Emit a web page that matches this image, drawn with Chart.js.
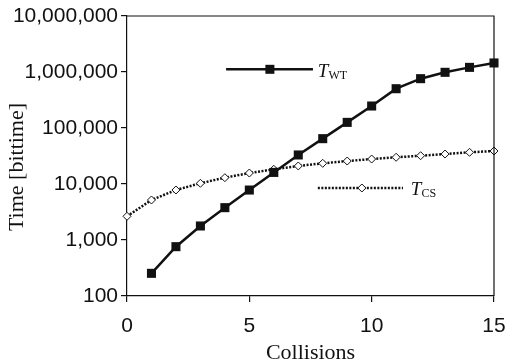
<!DOCTYPE html>
<html>
<head>
<meta charset="utf-8">
<style>
    html, body { margin: 0; padding: 0; background: #fff; }
    #wrap { width: 507px; height: 364px; position: relative; }
</style>
<script src="https://cdn.jsdelivr.net/npm/chart.js@4.4.1/dist/chart.umd.min.js"></script>
</head>
<body>
<div id="wrap"><canvas id="chart"></canvas></div>
<script>
// Collisions on the x axis
const wtCollisions = [1, 2, 3, 4, 5, 6, 7, 8, 9, 10, 11, 12, 13, 14, 15];
const csCollisions = [0, 1, 2, 3, 4, 5, 6, 7, 8, 9, 10, 11, 12, 13, 14, 15];

// Time in bittime
const wtTimes = [254, 760, 1780, 3780, 7800, 16100, 33000, 64500, 126000, 247000, 503000, 760000, 987000, 1210000, 1450000];
const csTimes = [2650, 5180, 7810, 10300, 12970, 15700, 18300, 21000, 23400, 25700, 27900, 30000, 32000, 34300, 36800, 38800];

// Tick labels
const xTicks = [0, 5, 10, 15];
const yTicks = [100, 1000, 10000, 100000, 1000000, 10000000];

const INK = '#111';
const serif = '"Liberation Serif", "Times New Roman", serif';

Chart.defaults.font.family = '"Liberation Sans", Arial, sans-serif';
Chart.defaults.color = INK;

const toPoints = (xs, ys) => xs.map((x, i) => ({ x: x, y: ys[i] }));

// Frame (top + right) and the inline legend keys
const framePlugin = {
    id: 'frameAndKeys',
    afterDraw(chart, args, opts) {
        const { ctx, chartArea: a, scales } = chart;
        ctx.save();
        ctx.strokeStyle = INK;
        ctx.lineWidth = 1.2;
        ctx.beginPath();
        ctx.moveTo(a.left, a.top);
        ctx.lineTo(a.right, a.top);
        ctx.lineTo(a.right, a.bottom);
        ctx.stroke();

        opts.keys.forEach(k => {
            const y = scales.y.getPixelForValue(k.y);
            const x0 = scales.x.getPixelForValue(k.from);
            const x1 = scales.x.getPixelForValue(k.to);
            const xm = scales.x.getPixelForValue(k.marker);
            const xt = scales.x.getPixelForValue(k.textAt);

            ctx.strokeStyle = INK;
            ctx.lineWidth = k.width;
            ctx.setLineDash(k.dash);
            ctx.beginPath();
            ctx.moveTo(x0, y);
            ctx.lineTo(x1, y);
            ctx.stroke();
            ctx.setLineDash([]);

            ctx.lineWidth = 1;
            if (k.style === 'rect') {
                ctx.fillStyle = INK;
                ctx.fillRect(xm - 4.5, y - 4.5, 9, 9);
            } else {
                ctx.fillStyle = '#fff';
                ctx.beginPath();
                ctx.moveTo(xm - 4, y);
                ctx.lineTo(xm, y - 4);
                ctx.lineTo(xm + 4, y);
                ctx.lineTo(xm, y + 4);
                ctx.closePath();
                ctx.fill();
                ctx.stroke();
            }

            ctx.fillStyle = INK;
            ctx.textBaseline = 'alphabetic';
            ctx.textAlign = 'left';
            ctx.font = 'italic 19px ' + serif;
            ctx.fillText('T', xt, y + 7.5);
            const tw = ctx.measureText('T').width;
            ctx.font = '12px ' + serif;
            ctx.fillText(k.sub, xt + tw, y + 9.5);
        });
        ctx.restore();
    }
};

new Chart(document.getElementById('chart'), {
    type: 'line',
    data: {
        datasets: [
            {
                label: 'TWT',
                data: toPoints(wtCollisions, wtTimes),
                borderColor: INK,
                backgroundColor: INK,
                borderWidth: 2.5,
                pointStyle: 'rect',
                pointRadius: 6.4,
                pointBorderWidth: 0,
                clip: false
            },
            {
                label: 'TCS',
                data: toPoints(csCollisions, csTimes),
                borderColor: INK,
                borderWidth: 2.5,
                borderDash: [2, 1.5],
                pointStyle: 'rectRot',
                pointRadius: 4,
                pointBorderWidth: 1,
                pointBackgroundColor: '#fff',
                pointBorderColor: INK,
                clip: false
            }
        ]
    },
    options: {
        responsive: true,
        maintainAspectRatio: false,
        animation: false,
        events: [],
        layout: { padding: { top: 16, right: 13, left: 0, bottom: 0 } },
        plugins: {
            legend: { display: false },
            tooltip: { enabled: false },
            frameAndKeys: {
                keys: [
                    { sub: 'WT', style: 'rect', y: 1117000, from: 4.05, to: 7.6, marker: 5.84, textAt: 7.8, width: 2.5, dash: [] },
                    { sub: 'CS', style: 'diamond', y: 8490, from: 7.8, to: 11.28, marker: 9.6, textAt: 11.6, width: 2.5, dash: [2, 1.5] }
                ]
            }
        },
        scales: {
            x: {
                type: 'linear',
                min: 0,
                max: 15,
                afterBuildTicks: scale => { scale.ticks = xTicks.map(v => ({ value: v })); },
                afterFit: scale => {
                    scale.height = 68;
                    scale.paddingLeft = 0;
                    scale.paddingRight = 0;
                },
                grid: { drawOnChartArea: false, drawTicks: true, tickLength: 6, color: INK, lineWidth: 1.2 },
                border: { color: INK, width: 1.2 },
                ticks: { padding: 12, font: { size: 21 }, color: INK, maxRotation: 0 },
                title: {
                    display: true,
                    text: 'Collisions',
                    font: { family: serif, size: 22, lineHeight: 1 },
                    padding: { top: 0, bottom: 0 },
                    color: INK
                }
            },
            y: {
                type: 'logarithmic',
                min: 100,
                max: 10000000,
                afterBuildTicks: scale => { scale.ticks = yTicks.map(v => ({ value: v })); },
                afterFit: scale => { scale.width = 127; },
                grid: { drawOnChartArea: false, drawTicks: true, tickLength: 6, color: INK, lineWidth: 1.2 },
                border: { color: INK, width: 1.2 },
                ticks: {
                    padding: 3,
                    font: { size: 21 },
                    color: INK,
                    callback: value => value.toLocaleString('en-US')
                },
                title: {
                    display: true,
                    // trailing en spaces nudge the centred title a little lower, as in the original
                    text: 'Time [bittime]\u2002\u2002',
                    font: { family: serif, size: 22, lineHeight: 1 },
                    padding: { top: 6, bottom: 0 },
                    color: INK
                }
            }
        }
    },
    plugins: [framePlugin]
});
</script>
</body>
</html>
